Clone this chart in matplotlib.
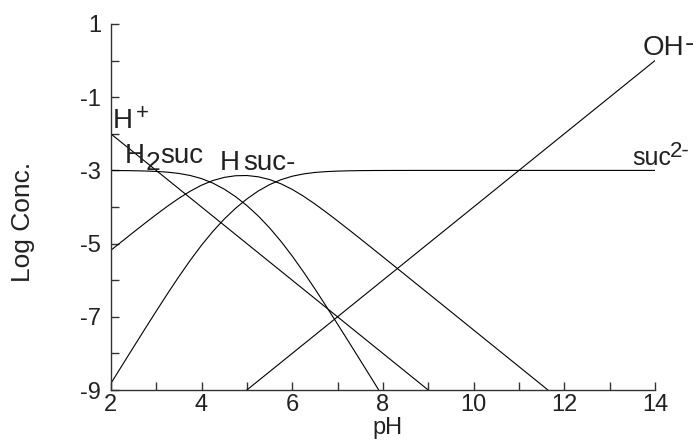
import numpy as np
import matplotlib
matplotlib.use("Agg")
import matplotlib.pyplot as plt
from matplotlib.transforms import offset_copy

plt.rcParams['font.family'] = ['Liberation Sans', 'DejaVu Sans']

# ---- data ----
h_ph = [2, 9]
h_log = [-2, -9]
oh_ph = [5, 14]
oh_log = [-9, 0]

h2suc_ph = [2.0, 2.25, 2.5, 2.75, 3.0, 3.25, 3.5, 3.75, 4.0, 4.25, 4.5, 4.75,
            5.0, 5.25, 5.5, 5.75, 6.0, 6.25, 6.5, 6.75, 7.0, 7.25, 7.5, 7.75, 8.0]
h2suc_log = [-3.003, -3.005, -3.009, -3.016, -3.028, -3.048, -3.083, -3.139,
             -3.224, -3.347, -3.511, -3.716, -3.960, -4.244, -4.569, -4.935,
             -5.339, -5.776, -6.236, -6.713, -7.199, -7.691, -8.186, -8.683, -9.182]

hsuc_ph = [2.0, 2.25, 2.5, 2.75, 3.0, 3.25, 3.5, 3.75, 4.0, 4.25, 4.5, 4.75,
           5.0, 5.25, 5.5, 5.75, 6.0, 6.25, 6.5, 6.75, 7.0, 7.25, 7.5, 7.75,
           8.0, 8.25, 8.5, 8.75, 9.0, 9.25, 9.5, 9.75, 10.0, 10.25, 10.5, 10.75,
           11.0, 11.25, 11.5, 11.75]
hsuc_log = [-5.183, -4.935, -4.689, -4.446, -4.208, -3.978, -3.763, -3.569,
            -3.404, -3.277, -3.191, -3.146, -3.140, -3.174, -3.249, -3.365,
            -3.519, -3.706, -3.916, -4.143, -4.379, -4.621, -4.866, -5.113,
            -5.362, -5.611, -5.861, -6.111, -6.360, -6.610, -6.860, -7.110,
            -7.360, -7.610, -7.860, -8.110, -8.360, -8.610, -8.860, -9.110]

suc_ph = [2.0, 2.25, 2.5, 2.75, 3.0, 3.25, 3.5, 3.75, 4.0, 4.25, 4.5, 4.75,
          5.0, 5.25, 5.5, 5.75, 6.0, 6.25, 6.5, 6.75, 7.0, 7.25, 7.5, 7.75,
          8.0, 8.25, 8.5, 8.75, 9.0, 9.25, 9.5, 9.75, 10.0, 10.25, 10.5, 10.75,
          11.0, 11.25, 11.5, 11.75, 12.0, 12.25, 12.5, 12.75, 13.0, 13.25,
          13.5, 13.75, 14.0]
suc_log = [-8.823, -8.325, -7.829, -7.336, -6.848, -6.368, -5.903, -5.459,
           -5.044, -4.667, -4.331, -4.036, -3.780, -3.564, -3.389, -3.255,
           -3.159, -3.096, -3.056, -3.033, -3.019, -3.011, -3.006, -3.003,
           -3.002, -3.001, -3.001, -3.000, -3.000, -3.000, -3.000, -3.000,
           -3.000, -3.000, -3.000, -3.000, -3.000, -3.000, -3.000, -3.000,
           -3.000, -3.000, -3.000, -3.000, -3.000, -3.000, -3.000, -3.000, -3.000]

x_major = [2, 4, 6, 8, 10, 12, 14]
x_minor = [3, 5, 7, 9, 11, 13]
y_major = [1, -1, -3, -5, -7, -9]
y_minor = [0, -2, -4, -6, -8]

TXT = '#222222'
LW = 0.8

fig = plt.figure(figsize=(6.97, 4.41), dpi=100)
ax = fig.add_axes([0.159, 0.1156, 0.7807, 0.830])

for xs, ys in [(h_ph, h_log), (oh_ph, oh_log), (h2suc_ph, h2suc_log),
               (hsuc_ph, hsuc_log), (suc_ph, suc_log)]:
    ax.plot(xs, ys, color='black', lw=LW)

ax.set_xlim(2, 14)
ax.set_ylim(-9, 1)
ax.set_xticks(x_major)
ax.set_xticks(x_minor, minor=True)
ax.set_yticks(y_major)
ax.set_yticks(y_minor, minor=True)
ax.set_xticklabels([str(v) for v in x_major])
ax.set_yticklabels([str(v) for v in y_major])
ax.tick_params(which='both', direction='in', length=6, width=1, colors='#333333',
               labelcolor=TXT)
ax.tick_params(axis='y', which='major', labelsize=17, pad=7)
ax.tick_params(axis='x', which='major', labelsize=17, pad=3)
for s in ['top', 'right']:
    ax.spines[s].set_visible(False)
for s in ['left', 'bottom']:
    ax.spines[s].set_color('#333333')
    ax.spines[s].set_linewidth(1)

ax.set_xlabel('pH', fontsize=17, color=TXT)
ax.xaxis.set_label_coords(0.509, -0.0745)
ax.set_ylabel('Log Conc.', fontsize=19, color=TXT)
ax.yaxis.set_label_coords(-0.140, 0.46)


def label(x, y, parts):
    for txt, dx, dy, size in parts:
        tr = offset_copy(ax.transData, fig=fig, x=dx, y=dy, units='dots')
        ax.text(x, y, txt, transform=tr, fontsize=size, color=TXT,
                ha='left', va='baseline', clip_on=False)


label(2.04, -1.84, [('H', 0, 0, 20), ('+', 23, 9, 16)])
label(2.31, -2.80, [('H', 0, 0, 20), ('2', 21, -7, 19), ('suc', 35, 0, 20)])
label(4.41, -2.99, [('H', 0, 0, 20), ('suc-', 23, 0, 20)])
label(13.72, 0.153, [('OH', 0, 0, 20), ('-', 42, 4, 20)])
label(13.50, -2.85, [('suc', 0, 0, 18), ('2-', 38, 8, 16)])

fig.savefig('out.png', dpi=100)
